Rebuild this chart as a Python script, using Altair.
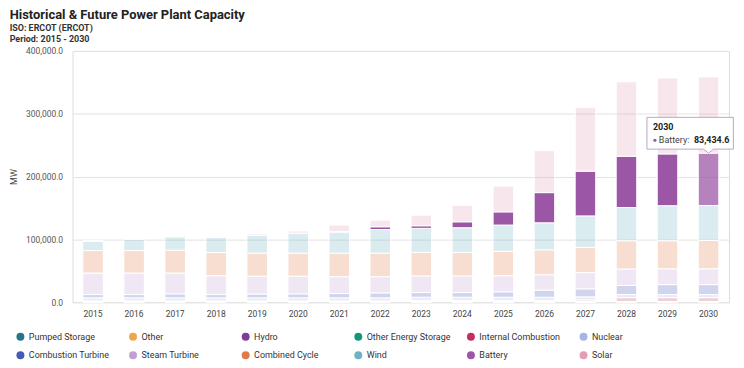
import altair as alt
import pandas as pd

FONT = "Roboto"

years = ["2015", "2016", "2017", "2018", "2019", "2020", "2021", "2022",
         "2023", "2024", "2025", "2026", "2027", "2028", "2029", "2030"]

series = ["Pumped Storage", "Other", "Hydro", "Other Energy Storage",
          "Internal Combustion", "Nuclear", "Combustion Turbine",
          "Steam Turbine", "Combined Cycle", "Wind", "Battery", "Solar"]

colors = ["#22758a", "#f0a54a", "#7d3c98", "#12977b", "#c2305b", "#a8b5e3",
          "#4559b8", "#c3a0d3", "#e07b47", "#6db3c4", "#9b56a6", "#e59cb8"]

# MW by year (2015 .. 2030)
pumped_storage = [0, 0, 0, 0, 0, 0, 0, 0, 0, 0, 0, 0, 0, 0, 0, 0]
other = [600, 600, 600, 600, 600, 600, 600, 600, 600, 600, 600, 600, 600, 600, 600, 600]
hydro = [550, 550, 550, 550, 550, 550, 550, 550, 550, 550, 550, 550, 550, 550, 550, 550]
other_energy_storage = [0, 0, 0, 0, 0, 0, 0, 50, 100, 100, 100, 100, 100, 200, 200, 200]
internal_combustion = [840, 840, 840, 840, 840, 840, 840, 790, 1690, 1690, 1690, 1690, 2290, 5860, 5860, 5860]
nuclear = [4960, 4960, 4960, 4960, 4960, 4960, 4960, 4960, 4960, 4960, 4960, 4960, 4960, 4960, 4960, 4960]
combustion_turbine = [5220, 5220, 6320, 5220, 6010, 6320, 6800, 7900, 7430, 7430, 8690, 11380, 12800, 14530, 15800, 15800]
steam_turbine = [34280, 34280, 33180, 30020, 28440, 28130, 26860, 25760, 26540, 26540, 25600, 24490, 25900, 26230, 25280, 25280]
combined_cycle = [35710, 35710, 36340, 36810, 36650, 36650, 37440, 37440, 37450, 37450, 38710, 39500, 40000, 44870, 44550, 45030]
wind = [15330, 18490, 21490, 24330, 28440, 31600, 33660, 37610, 38230, 39180, 41870, 43130, 50200, 52930, 55780, 55610]
battery = [70, 100, 150, 100, 100, 200, 700, 4420, 4110, 9480, 21010, 48030, 71100, 81530, 82470, 83434.6]
solar = [300, 500, 1000, 1500, 2300, 3440, 10360, 10590, 16910, 26390, 41080, 66840, 101600, 118500, 121030, 121335]

y_ticks = [0, 100000, 200000, 300000, 400000]

values = [pumped_storage, other, hydro, other_energy_storage, internal_combustion,
          nuclear, combustion_turbine, steam_turbine, combined_cycle, wind,
          battery, solar]

rows = []
for si, (name, vals) in enumerate(zip(series, values)):
    for yr, v in zip(years, vals):
        rows.append({"year": yr, "series": name, "value": v, "idx": si})
df = pd.DataFrame(rows)

hover_year = "2030"
hover_series = "Battery"
hi = years.index(hover_year)
bi = series.index(hover_series)
tip_top = sum(values[k][hi] for k in range(bi + 1))
tip_df = pd.DataFrame({
    "year": [hover_year],
    "top": [tip_top],
    "head": [hover_year],
    "name": [hover_series + ":"],
    "val": [f"{values[bi][hi]:,.1f}"],
})

x_enc = alt.X("year:N", sort=years, title=None,
              scale=alt.Scale(paddingInner=0.5, paddingOuter=0.25))

bars = alt.Chart(df).transform_calculate(
    op="datum.series == 'Battery' ? (datum.year == '2030' ? 0.74 : 1) : 0.25"
).mark_bar(stroke="white", strokeWidth=1).encode(
    x=x_enc,
    y=alt.Y("value:Q", stack="zero", title="MW",
            scale=alt.Scale(domain=[0, 400000], nice=False),
            axis=alt.Axis(values=y_ticks, format=",.1f")),
    color=alt.Color("series:N", sort=series,
                    scale=alt.Scale(domain=series, range=colors),
                    legend=alt.Legend(title=None, orient="none", legendX=-57, legendY=283,
                                      direction="horizontal", columns=6,
                                      symbolType="circle", symbolSize=64,
                                      symbolOpacity=1, symbolStrokeWidth=0,
                                      labelFont=FONT, labelFontSize=9,
                                      labelColor="#333", labelOffset=4,
                                      columnPadding=15.4, rowPadding=9,
                                      gridAlign="all")),
    order=alt.Order("idx:Q", sort="ascending"),
    fillOpacity=alt.FillOpacity("op:Q", scale=None, legend=None),
)

tip_path = "M0,0 L-5,-4 L-62,-4 L-62,-36 L25,-36 L25,-4 L5,-4 Z"
tip_box = alt.Chart(tip_df).mark_point(
    shape=tip_path, size=4, filled=True, fill="white", stroke="#bba6c6",
    strokeWidth=1, opacity=1
).encode(x=alt.X("year:N", sort=years, title=None), y=alt.Y("top:Q", title="MW"))

tip_head = alt.Chart(tip_df).mark_text(
    align="left", baseline="middle", dx=-56, dy=-26, font=FONT, fontSize=9,
    fontWeight="bold", color="#222"
).encode(x=alt.X("year:N", sort=years, title=None), y=alt.Y("top:Q", title="MW"), text="head:N")

tip_dot = alt.Chart(tip_df).mark_point(
    shape="circle", size=10, filled=True, color="#9b56a6", opacity=1,
    xOffset=-54, yOffset=-13
).encode(x=alt.X("year:N", sort=years, title=None), y=alt.Y("top:Q", title="MW"))

tip_name = alt.Chart(tip_df).mark_text(
    align="left", baseline="middle", dx=-50, dy=-13, font=FONT, fontSize=9,
    color="#444"
).encode(x=alt.X("year:N", sort=years, title=None), y=alt.Y("top:Q", title="MW"), text="name:N")

tip_val = alt.Chart(tip_df).mark_text(
    align="right", baseline="middle", dx=21, dy=-13, font=FONT, fontSize=9,
    fontWeight="bold", color="#222"
).encode(x=alt.X("year:N", sort=years, title=None), y=alt.Y("top:Q", title="MW"), text="val:N")

chart = alt.layer(bars, tip_box, tip_head, tip_dot, tip_name, tip_val).properties(
    width=661, height=253,
    padding={"left": 1, "top": 0, "right": 0, "bottom": 0},
    title=alt.Title("Historical & Future Power Plant Capacity",
                    subtitle=["ISO: ERCOT (ERCOT)", "Period: 2015 - 2030"],
                    anchor="start", frame="bounds", font=FONT, fontSize=13,
                    fontWeight="bold", color="#222", subtitleFont=FONT,
                    subtitleFontSize=9, subtitleFontWeight="bold",
                    subtitleColor="#333", subtitlePadding=2,
                    subtitleLineHeight=11, offset=3),
).configure_view(
    stroke="#dcdcdc"
).configure_axisY(
    labelFont=FONT, labelFontSize=8.5, labelColor="#555", labelPadding=10,
    ticks=False, domain=False, gridColor="#e2e2e2", titleFont=FONT,
    titleFontSize=9, titleFontWeight="normal", titleColor="#444", titlePadding=7
).configure_axisX(
    labelFont=FONT, labelFontSize=8.5, labelColor="#444", labelPadding=7,
    labelAngle=0, ticks=False, domain=False, grid=False
)

chart.save("out.html", embed_options={"renderer": "svg", "actions": False})
